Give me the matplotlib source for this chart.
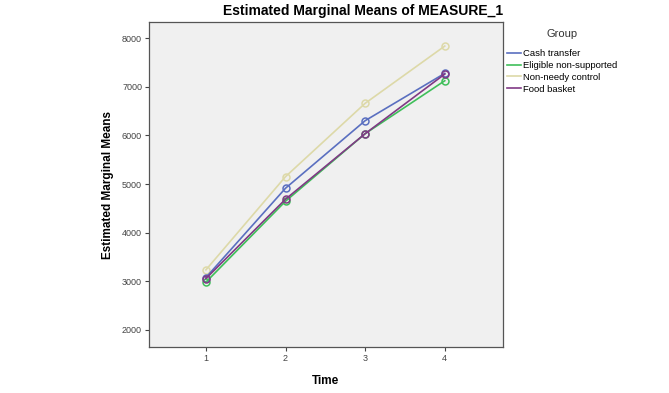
import matplotlib
matplotlib.use("Agg")
import matplotlib.pyplot as plt
from matplotlib.lines import Line2D

plt.rcParams['font.family'] = ['Liberation Sans', 'DejaVu Sans']

time = [1, 2, 3, 4]
groups = ["Cash transfer", "Eligible non-supported", "Non-needy control", "Food basket"]
cash = [3078, 4914, 6302, 7275]
eligible = [2983, 4647, 6035, 7123]
nonneedy = [3236, 5152, 6659, 7836]
food = [3057, 4688, 6035, 7260]
series = [cash, eligible, nonneedy, food]
colors = ["#5a6fc0", "#3fbf5a", "#ddd9a8", "#803a85"]
yticks = [2000, 3000, 4000, 5000, 6000, 7000, 8000]

fig = plt.figure(figsize=(6.69, 3.93), dpi=100)
ax = fig.add_axes([0.2227, 0.117, 0.529, 0.827])
ax.set_facecolor("#f0f0f0")

order = [2, 0, 1, 3]
for i in order:
    ax.plot(time, series[i], color=colors[i], lw=1.2, marker="o", ms=5,
            mfc="none", mec=colors[i], mew=1.1, zorder=3)

ax.set_xlim(0.285, 4.73)
ax.set_ylim(1650, 8330)
ax.set_xticks(time)
ax.set_yticks(yticks)
ax.tick_params(labelsize=6.5, colors="#444444", length=3, width=0.8, pad=2)
for s in ax.spines.values():
    s.set_color("#555555")
    s.set_linewidth(0.9)

fig.text(0.543, 0.972, "Estimated Marginal Means of MEASURE_1", fontsize=10,
         fontweight="bold", ha="center", va="center")
ax.set_xlabel("Time", fontsize=8.5, fontweight="bold", labelpad=9)
ax.set_ylabel("Estimated Marginal Means", fontsize=8.5, fontweight="bold", labelpad=6)

handles = [Line2D([0], [0], color=colors[i], lw=1.2) for i in range(4)]
leg = fig.legend(handles, groups, title="Group", loc="upper left",
                 bbox_to_anchor=(0.752, 0.935), frameon=False, fontsize=6.8,
                 title_fontsize=8, handlelength=1.5, handletextpad=0.2,
                 labelspacing=0.3, borderaxespad=0)
leg.get_title().set_color("#333333")
leg._legend_box.sep = 7

fig.savefig("out.png", dpi=100)
